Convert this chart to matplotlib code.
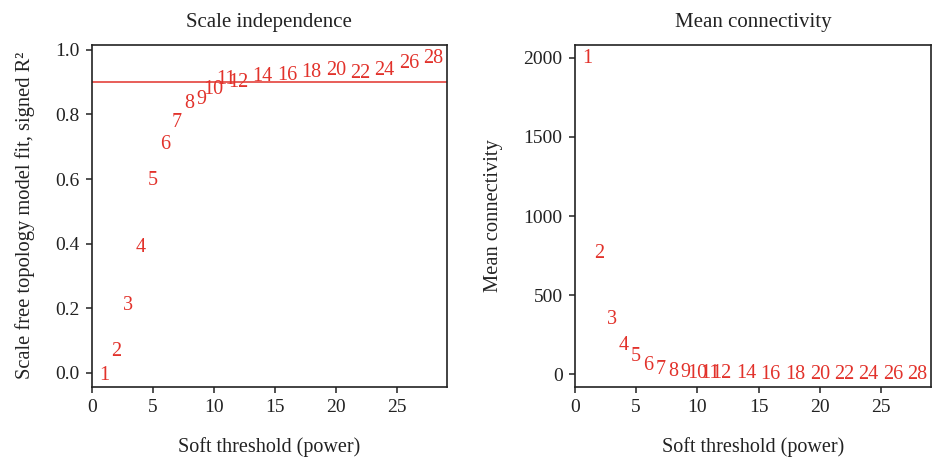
import matplotlib
matplotlib.use("Agg")
import matplotlib.pyplot as plt

plt.rcParams['font.family'] = ['Liberation Serif', 'DejaVu Serif']

powers = [1, 2, 3, 4, 5, 6, 7, 8, 9, 10, 11, 12, 14, 16, 18, 20, 22, 24, 26, 28]
signed_r2 = [-0.007, 0.067, 0.207, 0.387, 0.595, 0.706, 0.776, 0.835, 0.845, 0.878,
             0.907, 0.899, 0.917, 0.920, 0.931, 0.935, 0.928, 0.935, 0.959, 0.974]
mean_k = [1998, 766, 348, 180, 112, 54, 30, 18, 12, 8,
          6, 4, 2.5, 1.5, 1.0, 0.7, 0.5, 0.4, 0.3, 0.2]
r2_cutoff = 0.9

red = '#e2322b'
ink = '#222222'
fig = plt.figure(figsize=(9.33, 4.59), dpi=100)
axL = fig.add_axes([0.0983, 0.1575, 0.3805, 0.7451])
axR = fig.add_axes([0.6163, 0.1575, 0.3816, 0.7451])

for ax in (axL, axR):
    for s in ax.spines.values():
        s.set_linewidth(1.2)
        s.set_color(ink)
    ax.tick_params(direction='out', length=4, width=1.1, color=ink,
                   labelsize=14, labelcolor=ink, pad=5)
    ax.set_xlim(0, 29.1)
    ax.set_xticks([0, 5, 10, 15, 20, 25])
    ax.text(0.5, -0.176, 'Soft threshold (power)', transform=ax.transAxes,
            fontsize=14.5, ha='center', va='center', color=ink)

# Left panel
for p, v in zip(powers, signed_r2):
    axL.text(p, v, str(p), color=red, fontsize=14.5, ha='center', va='center')
axL.axhline(r2_cutoff, color=red, lw=1.1)
axL.set_ylim(-0.043, 1.016)
axL.set_yticks([0.0, 0.2, 0.4, 0.6, 0.8, 1.0])
axL.set_yticklabels(['0.0', '0.2', '0.4', '0.6', '0.8', '1.0'])
axL.text(-0.188, 0.5, 'Scale free topology model fit, signed R²', transform=axL.transAxes,
         fontsize=14.8, rotation=90, ha='center', va='center', color=ink)
axL.text(0.5, 1.066, 'Scale independence', transform=axL.transAxes,
         fontsize=15, ha='center', va='center', color=ink)

# Right panel
for p, v in zip(powers, mean_k):
    axR.text(p, v, str(p), color=red, fontsize=14.5, ha='center', va='center')
axR.set_ylim(-78, 2082)
axR.set_yticks([0, 500, 1000, 1500, 2000])
axR.text(-0.230, 0.5, 'Mean connectivity', transform=axR.transAxes,
         fontsize=14.8, rotation=90, ha='center', va='center', color=ink)
axR.text(0.5, 1.066, 'Mean connectivity', transform=axR.transAxes,
         fontsize=15, ha='center', va='center', color=ink)

fig.savefig('out.png', dpi=100)
